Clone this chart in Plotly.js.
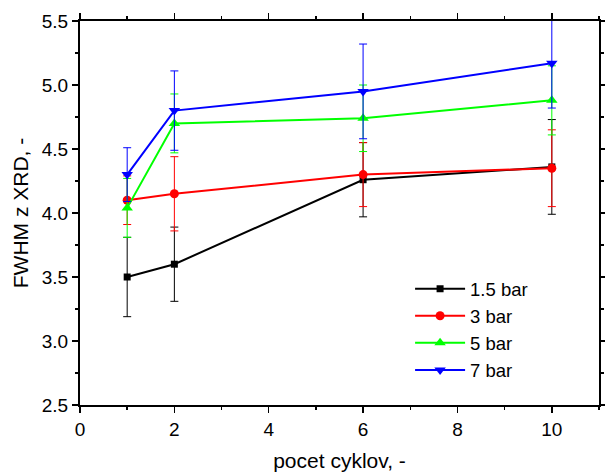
<!DOCTYPE html>
<html>
<head>
<meta charset="utf-8">
<script src="https://cdn.plot.ly/plotly-3.0.1.min.js"></script>
<style>html,body{margin:0;padding:0;background:#fff;}#chart{width:605px;height:473px;}</style>
</head>
<body>
<div id="chart"></div>
<script>
const cycles = [1, 2, 6, 10];
const seriesNames = ['1.5 bar', '3 bar', '5 bar', '7 bar'];
const fwhm15 = [3.50, 3.60, 4.26, 4.36];
const err15  = [0.31, 0.29, 0.29, 0.37];
const fwhm3  = [4.10, 4.15, 4.30, 4.35];
const err3   = [0.19, 0.29, 0.25, 0.30];
const fwhm5  = [4.04, 4.70, 4.74, 4.88];
const err5   = [0.23, 0.23, 0.26, 0.27];
const fwhm7  = [4.30, 4.80, 4.95, 5.17];
const err7   = [0.21, 0.31, 0.37, 0.35];
const colors = ['#000000', '#ff0000', '#00ff00', '#0000ff'];
const symbols = ['square', 'circle', 'triangle-up', 'triangle-down'];
const sizes = [7, 9, 10, 10];
const ys = [fwhm15, fwhm3, fwhm5, fwhm7];
const errs = [err15, err3, err5, err7];

const traces = ys.map((y, i) => ({
  x: cycles, y: y, name: seriesNames[i], type: 'scatter', mode: 'lines+markers',
  line: {color: colors[i], width: 2},
  marker: {symbol: symbols[i], size: sizes[i], color: colors[i]},
  error_y: {type: 'data', array: errs[i], visible: true, color: colors[i], thickness: 1, width: 4}
}));

const fam = 'Liberation Sans, Arial, sans-serif';
const tickFont = {family: fam, size: 19, color: '#000'};
const titleFont = {family: fam, size: 21, color: '#000'};
const layout = {
  width: 605, height: 473,
  margin: {l: 80, r: 6, t: 21, b: 68},
  paper_bgcolor: '#fff', plot_bgcolor: '#fff',
  font: tickFont,
  showlegend: true,
  legend: {x: 0.636, y: 0.351, xanchor: 'left', yanchor: 'top', bgcolor: 'rgba(0,0,0,0)',
           font: {family: fam, size: 18.5, color: '#000'},
           itemwidth: 50, tracegroupgap: 0},
  xaxis: {
    range: [0, 11], tickmode: 'array', tickvals: [0, 2, 4, 6, 8, 10],
    showgrid: false, zeroline: false, showline: true, linecolor: '#000', linewidth: 2,
    mirror: 'ticks', ticks: 'outside', ticklen: 6, tickwidth: 1.5, tickcolor: '#000',
    minor: {dtick: 1, tick0: 0, ticks: 'outside', ticklen: 3, tickwidth: 1.5, tickcolor: '#000'},
    tickfont: tickFont,
    title: {text: 'pocet cyklov, -', font: titleFont, standoff: 15}
  },
  yaxis: {
    range: [2.5, 5.5], tickmode: 'array', tickvals: [2.5, 3.0, 3.5, 4.0, 4.5, 5.0, 5.5],
    ticktext: ['2.5', '3.0', '3.5', '4.0', '4.5', '5.0', '5.5'],
    showgrid: false, zeroline: false, showline: true, linecolor: '#000', linewidth: 2,
    mirror: 'ticks', ticks: 'outside', ticklen: 6, tickwidth: 1.5, tickcolor: '#000',
    minor: {dtick: 0.25, tick0: 2.5, ticks: 'outside', ticklen: 3, tickwidth: 1.5, tickcolor: '#000'},
    tickfont: tickFont,
    title: {text: 'FWHM z XRD, -', font: titleFont, standoff: 7}
  }
};
Plotly.newPlot('chart', traces, layout, {displayModeBar: false, staticPlot: true});
</script>
</body>
</html>
